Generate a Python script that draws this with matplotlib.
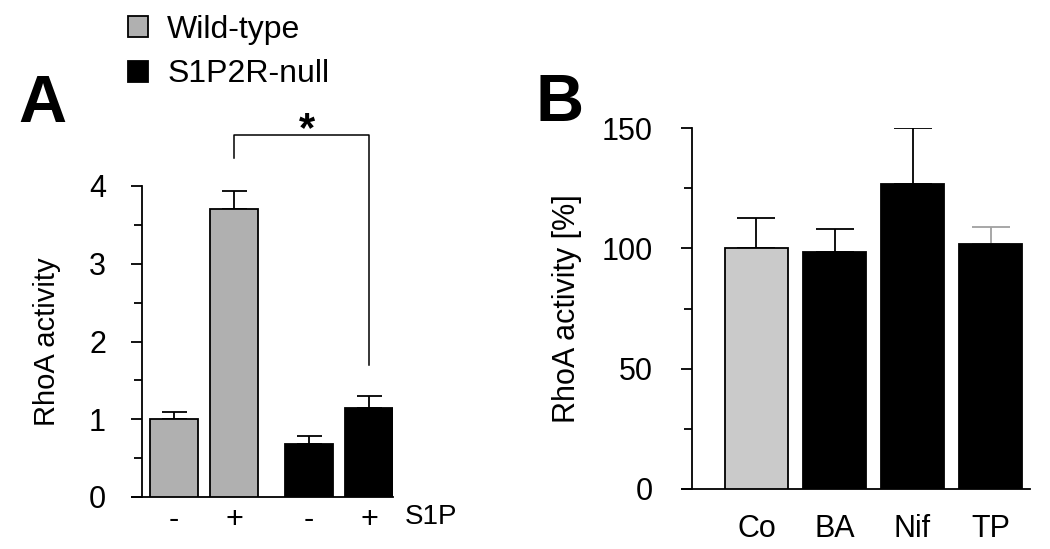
import matplotlib
matplotlib.use('Agg')
import matplotlib.pyplot as plt
from matplotlib.ticker import MultipleLocator

plt.rcParams['font.family'] = ['Liberation Sans', 'DejaVu Sans']

# panel A data
s1p_labels = ['-', '+', '-', '+']
wt_vals = [1.00, 3.70]
wt_err = [0.09, 0.23]
null_vals = [0.68, 1.14]
null_err = [0.10, 0.16]

# panel B data
b_labels = ['Co', 'BA', 'Nif', 'TP']
b_vals = [100.0, 98.3, 126.6, 101.7]
b_err = [12.4, 9.7, 23.4, 7.3]

pos_wt = [0, 1]
pos_null = [2.25, 3.25]
pos_b = [0, 1, 2, 3]

fig = plt.figure(figsize=(10.5, 5.49), dpi=100)

# ---------------- panel A ----------------
axa = fig.add_axes([132 / 1050, 52 / 549, 261 / 1050, 311 / 549])
lw = 1.3
axa.bar(pos_wt, wt_vals, width=0.8, color='#b0b0b0', edgecolor='black',
        linewidth=lw, label='Wild-type', zorder=3)
axa.bar(pos_null, null_vals, width=0.8, color='black', edgecolor='black',
        linewidth=lw, label='S1P2R-null', zorder=3)
axa.errorbar(pos_wt, wt_vals, yerr=[[0, 0], wt_err], fmt='none', ecolor='black',
             elinewidth=lw, capsize=9, capthick=lw, zorder=2)
axa.errorbar(pos_null, null_vals, yerr=[[0, 0], null_err], fmt='none', ecolor='black',
             elinewidth=lw, capsize=9, capthick=lw, zorder=2)

axa.set_xlim(-0.7, 3.65)
axa.set_ylim(0, 4)
for s in ['top', 'right']:
    axa.spines[s].set_visible(False)
axa.spines['left'].set_position(('axes', 10 / 261))
axa.spines['left'].set_linewidth(lw)
axa.spines['bottom'].set_linewidth(lw)
axa.yaxis.set_major_locator(MultipleLocator(1))
axa.yaxis.set_minor_locator(MultipleLocator(0.5))
axa.tick_params(axis='y', which='major', length=8, width=lw, labelsize=22, pad=18)
axa.tick_params(axis='y', which='minor', length=6, width=lw)
axa.set_xticks(pos_wt + pos_null)
axa.set_xticklabels(s1p_labels)
axa.tick_params(axis='x', length=0, labelsize=22, pad=6)
axa.set_ylabel('RhoA activity', fontsize=21, labelpad=20)
axa.text(3.85, -0.26, 'S1P', fontsize=20, ha='left', va='center', clip_on=False)

# significance bracket
axa.plot([1, 1, 3.25, 3.25], [4.36, 4.66, 4.66, 1.70], color='black',
         linewidth=1.1, clip_on=False)
axa.text(2.22, 4.58, '*', fontsize=30, fontweight='bold', ha='center', va='baseline')

axa.legend(loc='upper left', bbox_to_anchor=(128 / 1050, 1 - 15 / 549),
           bbox_transform=fig.transFigure, frameon=False, fontsize=23,
           borderpad=0, borderaxespad=0,
           handlelength=0.63, handleheight=0.63, handletextpad=0.6, labelspacing=0.45)

fig.text(18 / 1050, 1 - 122 / 549, 'A', fontsize=48, fontweight='bold',
         ha='left', va='baseline')

# ---------------- panel B ----------------
axb = fig.add_axes([682 / 1050, 60 / 549, 348 / 1050, 361 / 549])
bcolors = ['#cacaca', 'black', 'black', 'black']
axb.bar(pos_b, b_vals, width=0.8, color=bcolors, edgecolor='black', linewidth=lw, zorder=3)
ecols = ['black', 'black', 'black', '#a0a0a0']
for p, v, e, c in zip(pos_b, b_vals, b_err, ecols):
    axb.errorbar([p], [v], yerr=[[0], [e]], fmt='none', ecolor=c, elinewidth=lw,
                 capsize=14, capthick=lw, zorder=2)

axb.set_xlim(-0.955, 3.506)
axb.set_ylim(0, 150)
for s in ['top', 'right']:
    axb.spines[s].set_visible(False)
axb.spines['left'].set_position(('axes', 10 / 348))
axb.spines['left'].set_linewidth(lw)
axb.spines['bottom'].set_linewidth(lw)
axb.yaxis.set_major_locator(MultipleLocator(50))
axb.yaxis.set_minor_locator(MultipleLocator(25))
axb.tick_params(axis='y', which='major', length=8, width=lw, labelsize=22, pad=20)
axb.tick_params(axis='y', which='minor', length=6, width=lw)
axb.set_xticks(pos_b)
axb.set_xticklabels(b_labels)
axb.tick_params(axis='x', length=0, labelsize=22, pad=18)
axb.set_ylabel('RhoA activity [%]', fontsize=22, labelpad=14)

fig.text(535 / 1050, 1 - 121 / 549, 'B', fontsize=48, fontweight='bold',
         ha='left', va='baseline')

fig.savefig('out.png', dpi=100)
